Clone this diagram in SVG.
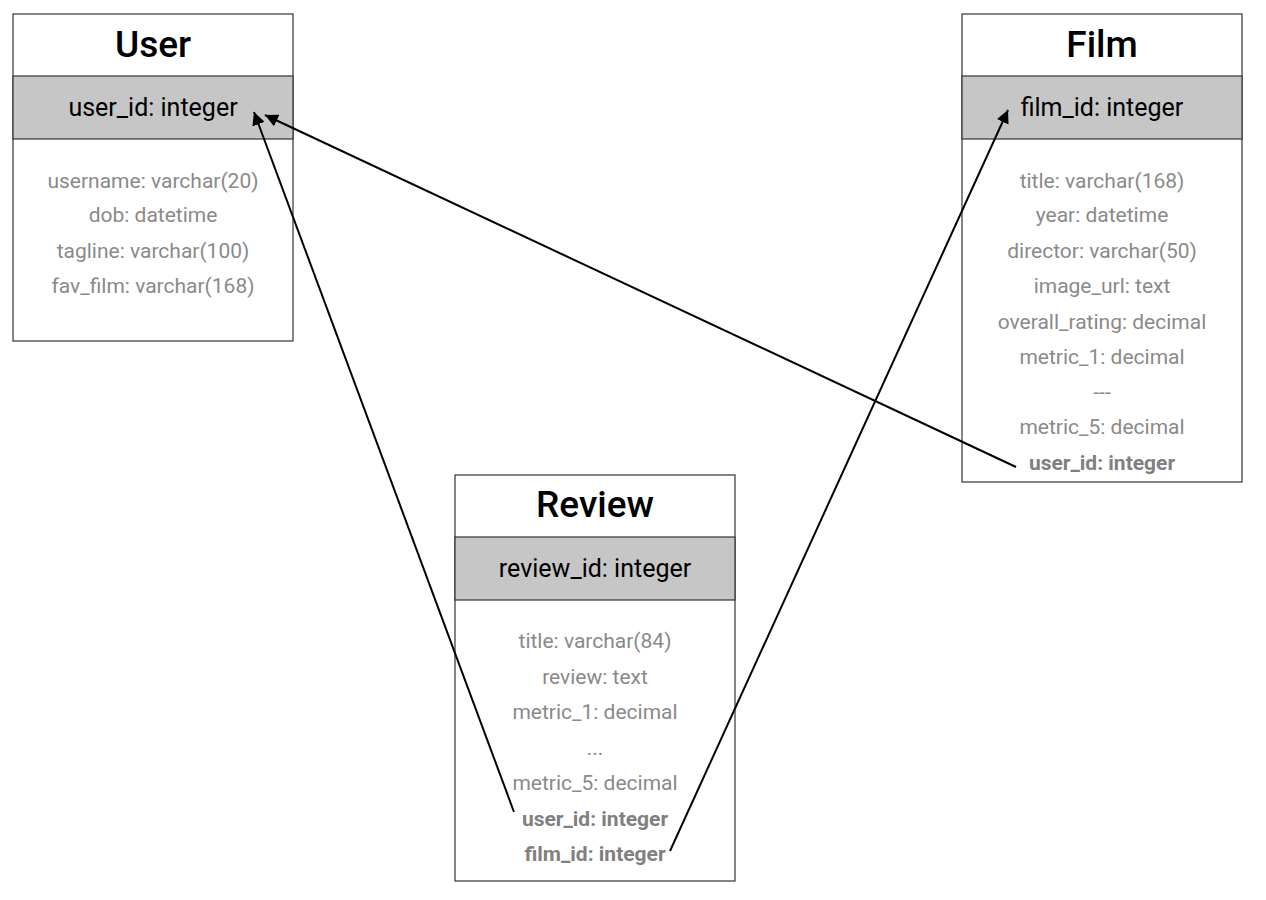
<svg xmlns="http://www.w3.org/2000/svg" width="1266" height="900" viewBox="0 0 1266 900">
<defs>
<marker id="arr" viewBox="0 0 10 10" refX="10" refY="5" markerWidth="6.5" markerHeight="6.5" orient="auto-start-reverse" markerUnits="strokeWidth">
<path d="M0,0 L10,5 L0,10 z" fill="#000"/>
</marker>
<style>
.box{fill:#fff;stroke:#333;stroke-width:1.2}
.pk{fill:#c6c6c6;stroke:#333;stroke-width:1.2}
.title{font-family:Roboto,"Liberation Sans",sans-serif;font-size:37px;font-weight:500;fill:#000;text-anchor:middle}
.pkt{font-family:Roboto,"Liberation Sans",sans-serif;font-size:25px;fill:#000;text-anchor:middle}
.f{font-family:Roboto,"Liberation Sans",sans-serif;font-size:21px;fill:#8a8a8a;text-anchor:middle}
.fb{font-family:Roboto,"Liberation Sans",sans-serif;font-size:21px;font-weight:bold;fill:#808080;text-anchor:middle}
.conn{fill:none;stroke:#000;stroke-width:2}
</style>
</defs>
<rect width="1266" height="900" fill="#fff"/>
<g id="user">
<rect class="box" x="13" y="14" width="280" height="327"/>
<rect class="pk" x="13" y="76" width="280" height="63"/>
<text class="title" x="153" y="57">User</text>
<text class="pkt" x="153" y="116">user_id: integer</text>
<text class="f" x="153" y="188">username: varchar(20)</text>
<text class="f" x="153" y="222">dob: datetime</text>
<text class="f" x="153" y="258">tagline: varchar(100)</text>
<text class="f" x="153" y="293">fav_film: varchar(168)</text>
</g>
<g id="film">
<rect class="box" x="962" y="14" width="280" height="468"/>
<rect class="pk" x="962" y="76" width="280" height="63"/>
<text class="title" x="1102" y="57">Film</text>
<text class="pkt" x="1102" y="116">film_id: integer</text>
<text class="f" x="1102" y="188">title: varchar(168)</text>
<text class="f" x="1102" y="222">year: datetime</text>
<text class="f" x="1102" y="258">director: varchar(50)</text>
<text class="f" x="1102" y="293">image_url: text</text>
<text class="f" x="1102" y="329">overall_rating: decimal</text>
<text class="f" x="1102" y="364">metric_1: decimal</text>
<text class="f" x="1102" y="399">---</text>
<text class="f" x="1102" y="434">metric_5: decimal</text>
<text class="fb" x="1102" y="470">user_id: integer</text>
</g>
<g id="review">
<rect class="box" x="455" y="475" width="280" height="406"/>
<rect class="pk" x="455" y="537" width="280" height="63"/>
<text class="title" x="595" y="517">Review</text>
<text class="pkt" x="595" y="577">review_id: integer</text>
<text class="f" x="595" y="648">title: varchar(84)</text>
<text class="f" x="595" y="684">review: text</text>
<text class="f" x="595" y="719">metric_1: decimal</text>
<text class="f" x="595" y="755">...</text>
<text class="f" x="595" y="790">metric_5: decimal</text>
<text class="fb" x="595" y="826">user_id: integer</text>
<text class="fb" x="595" y="861">film_id: integer</text>
</g>
<g id="connectors">
<line class="conn" x1="514" y1="812" x2="254" y2="112" marker-end="url(#arr)"/>
<line class="conn" x1="1016" y1="467" x2="265" y2="115" marker-end="url(#arr)"/>
<line class="conn" x1="670" y1="851" x2="1008" y2="110" marker-end="url(#arr)"/>
</g>
</svg>
